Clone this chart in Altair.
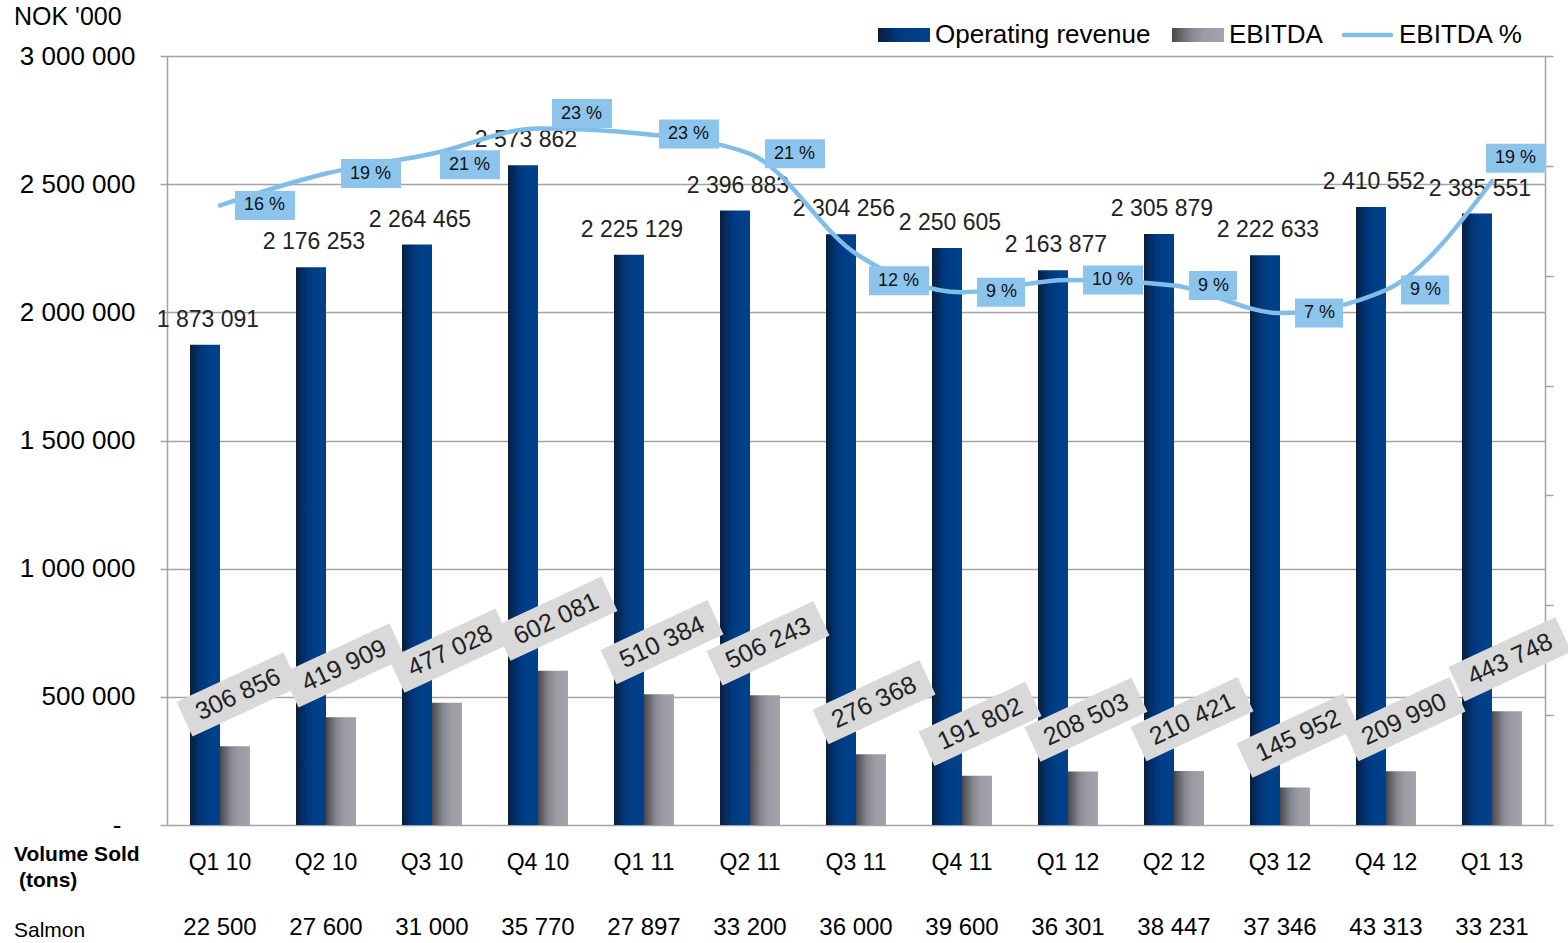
import altair as alt
import pandas as pd

# ---------------- data ----------------
quarters = ["Q1 10", "Q2 10", "Q3 10", "Q4 10", "Q1 11", "Q2 11", "Q3 11",
            "Q4 11", "Q1 12", "Q2 12", "Q3 12", "Q4 12", "Q1 13"]
operating_revenue = [1873091, 2176253, 2264465, 2573862, 2225129, 2396883, 2304256,
                     2250605, 2163877, 2305879, 2222633, 2410552, 2385551]
ebitda = [306856, 419909, 477028, 602081, 510384, 506243, 276368,
          191802, 208503, 210421, 145952, 209990, 443748]
ebitda_pct = [0.164, 0.193, 0.211, 0.234, 0.229, 0.211, 0.120,
              0.085, 0.096, 0.091, 0.066, 0.087, 0.186]
volume_salmon = [22500, 27600, 31000, 35770, 27897, 33200, 36000,
                 39600, 36301, 38447, 37346, 43313, 33231]
left_ticks = [0, 500000, 1000000, 1500000, 2000000, 2500000, 3000000]
right_ticks = [-0.4, -0.3, -0.2, -0.1, 0.0, 0.1, 0.2, 0.3]

# label placement (pixel nudges of individual % labels, as moved in the original)
DEFAULT_PCT_NUDGE = (15, 0)
pct_label_nudges = {"Q3 10": (8, 11), "Q4 10": (14, -15),
                    "Q3 11": (13, 27), "Q1 13": (-6, -23)}


def sp(v):
    return f"{v:,}".replace(",", " ")


df = pd.DataFrame({
    "q": quarters,
    "rev": operating_revenue,
    "ebitda": ebitda,
    "pct": ebitda_pct,
    "rev_label": [sp(v) for v in operating_revenue],
    "ebitda_label": [sp(v) for v in ebitda],
    "pct_label": [f"{int(p * 100 + 0.5)} %" for p in ebitda_pct],
    "vol_label": [sp(v) for v in volume_salmon],
})
df["w"] = ["wide" if len(s) > 3 else "narrow" for s in df["pct_label"]]

W, H = 1378, 769
FONT = "Liberation Sans"
GRID = "#a3a3a3"
NAVY_GRAD = alt.LinearGradient(
    gradient="linear", x1=0, x2=1, y1=0, y2=0,
    stops=[alt.GradientStop(color="#0a1d3c", offset=0),
           alt.GradientStop(color="#00367a", offset=0.35),
           alt.GradientStop(color="#003f88", offset=0.6),
           alt.GradientStop(color="#00418a", offset=1)])
GREY_GRAD = alt.LinearGradient(
    gradient="linear", x1=0, x2=1, y1=0, y2=0,
    stops=[alt.GradientStop(color="#48484e", offset=0),
           alt.GradientStop(color="#85858d", offset=0.35),
           alt.GradientStop(color="#9a9aa2", offset=0.6),
           alt.GradientStop(color="#a3a3ab", offset=1)])
LINE_BLUE = "#80bde8"
BOX_BLUE = "#8dc4ec"

# shared scales and axes (identical in every layer so that they merge)
X_SCALE = alt.Scale(paddingInner=0, paddingOuter=0)
X_AXIS = alt.Axis(title="", labelAngle=0, labelFontSize=23, labelPadding=37,
                  labelBaseline="middle", ticks=False, domain=False,
                  labelColor="#000", labelFont=FONT, grid=False)
YL_SCALE = alt.Scale(domain=[0, 3000000], nice=False, zero=True)
YL_AXIS = alt.Axis(
    values=left_ticks, grid=True, gridColor=GRID, gridWidth=1.5,
    tickSize=7, tickColor=GRID, tickWidth=1.5,
    domainColor=GRID, domainWidth=1.5,
    labelFontSize=26, labelPadding=25, labelColor="#000", labelFont=FONT,
    labelExpr="datum.value == 0 ? '' : replace(format(datum.value, ','), regexp(',', 'g'), ' ')",
    title="")
YR_SCALE = alt.Scale(domain=[-0.4, 0.3], nice=False, zero=False)
YR_AXIS = alt.Axis(orient="right", values=right_ticks, labels=False, grid=False,
                   tickSize=8, tickColor=GRID, tickWidth=1.5,
                   domainColor=GRID, domainWidth=1.5, title="")


def X():
    return alt.X("q:N", sort=quarters, scale=X_SCALE, axis=X_AXIS)


def YL(field):
    return alt.Y(f"{field}:Q", scale=YL_SCALE, axis=YL_AXIS)


def YR(field):
    return alt.Y(f"{field}:Q", scale=YR_SCALE, axis=YR_AXIS)


base = alt.Chart(df)

rev_bars = base.mark_bar(width=30, xOffset=-15, color=NAVY_GRAD).encode(x=X(), y=YL("rev"))
eb_bars = base.mark_bar(width=30, xOffset=15, color=GREY_GRAD).encode(x=X(), y=YL("ebitda"))

rev_text = base.mark_text(fontSize=23, color="#222", xOffset=-12, yOffset=-25,
                          baseline="middle", font=FONT).encode(
    x=X(), y=YL("rev"), text="rev_label:N")

box_path = "M-1,-0.322L1,-0.322L1,0.322L-1,0.322Z"
eb_box = base.mark_point(shape=box_path, size=13924, angle=335, filled=True,
                         color="#d9d9d9", opacity=1, strokeWidth=0,
                         xOffset=18, yOffset=-52).encode(x=X(), y=YL("ebitda"))
eb_text = base.mark_text(angle=335, fontSize=25, color="#222", xOffset=18, yOffset=-52,
                         align="center", baseline="middle", font=FONT).encode(
    x=X(), y=YL("ebitda"), text="ebitda_label:N")

vol_text = base.mark_text(fontSize=24, color="#000", baseline="middle", font=FONT).encode(
    x=X(), y=alt.value(872), text="vol_label:N")


def note(txt, x, y, size, weight="normal", align="left"):
    return alt.Chart(pd.DataFrame({"t": [txt]})).mark_text(
        fontSize=size, fontWeight=weight, align=align, baseline="middle",
        color="#000", font=FONT).encode(x=alt.value(x), y=alt.value(y), text="t:N")


one = pd.DataFrame({"k": [0]})
leg_rev = alt.Chart(one).mark_rect(color=NAVY_GRAD).encode(
    x=alt.value(711), x2=alt.value(763), y=alt.value(-28), y2=alt.value(-14))
leg_eb = alt.Chart(one).mark_rect(color=GREY_GRAD).encode(
    x=alt.value(1005), x2=alt.value(1057), y=alt.value(-28), y2=alt.value(-14))
leg_line = alt.Chart(one).mark_rule(color=LINE_BLUE, strokeWidth=4.5, strokeCap="round").encode(
    x=alt.value(1177), x2=alt.value(1224), y=alt.value(-21))

left = alt.layer(
    rev_bars, eb_bars, rev_text, eb_box, eb_text, vol_text,
    note("-", -50, 770, 26, align="center"),
    note("NOK '000", -153, -39, 25),
    note("Volume Sold", -153, 799, 21, "bold"),
    note("(tons)", -148, 825, 21, "bold"),
    note("Salmon", -153, 875, 21),
    leg_rev, note("Operating revenue", 768, -21, 26),
    leg_eb, note("EBITDA", 1062, -21, 26),
    leg_line, note("EBITDA %", 1232, -21, 26),
)

line = base.mark_line(color=LINE_BLUE, strokeWidth=4.5, interpolate="monotone",
                      strokeCap="round").encode(x=X(), y=YR("pct"))

wide_path = "M0,-0.483L2,-0.483L2,0.483L0,0.483Z"
narrow_path = "M0,-0.483L1.6,-0.483L1.6,0.483L0,0.483Z"
SHAPE = alt.Shape("w:N", scale=alt.Scale(domain=["wide", "narrow"],
                                         range=[wide_path, narrow_path]), legend=None)


def pct_labels(filter_expr, nudge):
    dx, dy = nudge
    sub = base.transform_filter(filter_expr)
    box = sub.mark_point(filled=True, size=3600, color=BOX_BLUE, opacity=1,
                         strokeWidth=0, xOffset=dx, yOffset=dy).encode(
        x=X(), y=YR("pct"), shape=SHAPE)
    txt = sub.mark_text(fontSize=18, color="#111", align="left", baseline="middle",
                        xOffset=dx + 9, yOffset=dy, font=FONT).encode(
        x=X(), y=YR("pct"), text="pct_label:N")
    return [box, txt]


nudged = list(pct_label_nudges)
label_layers = pct_labels(
    "indexof([" + ",".join(f"'{q}'" for q in nudged) + "], datum.q) < 0", DEFAULT_PCT_NUDGE)
for q, nd in pct_label_nudges.items():
    label_layers += pct_labels(f"datum.q == '{q}'", nd)

right = alt.layer(line, *label_layers)

chart = alt.layer(left, right).resolve_scale(y="independent").properties(
    width=W, height=H,
    padding={"left": 167, "top": 56, "right": 23, "bottom": 118},
    autosize=alt.AutoSizeParams(type="none"),
    background="white",
).configure_view(strokeWidth=0, stroke="transparent").configure(font=FONT)

chart.save("out.html", embed_options={"renderer": "svg", "actions": False})
